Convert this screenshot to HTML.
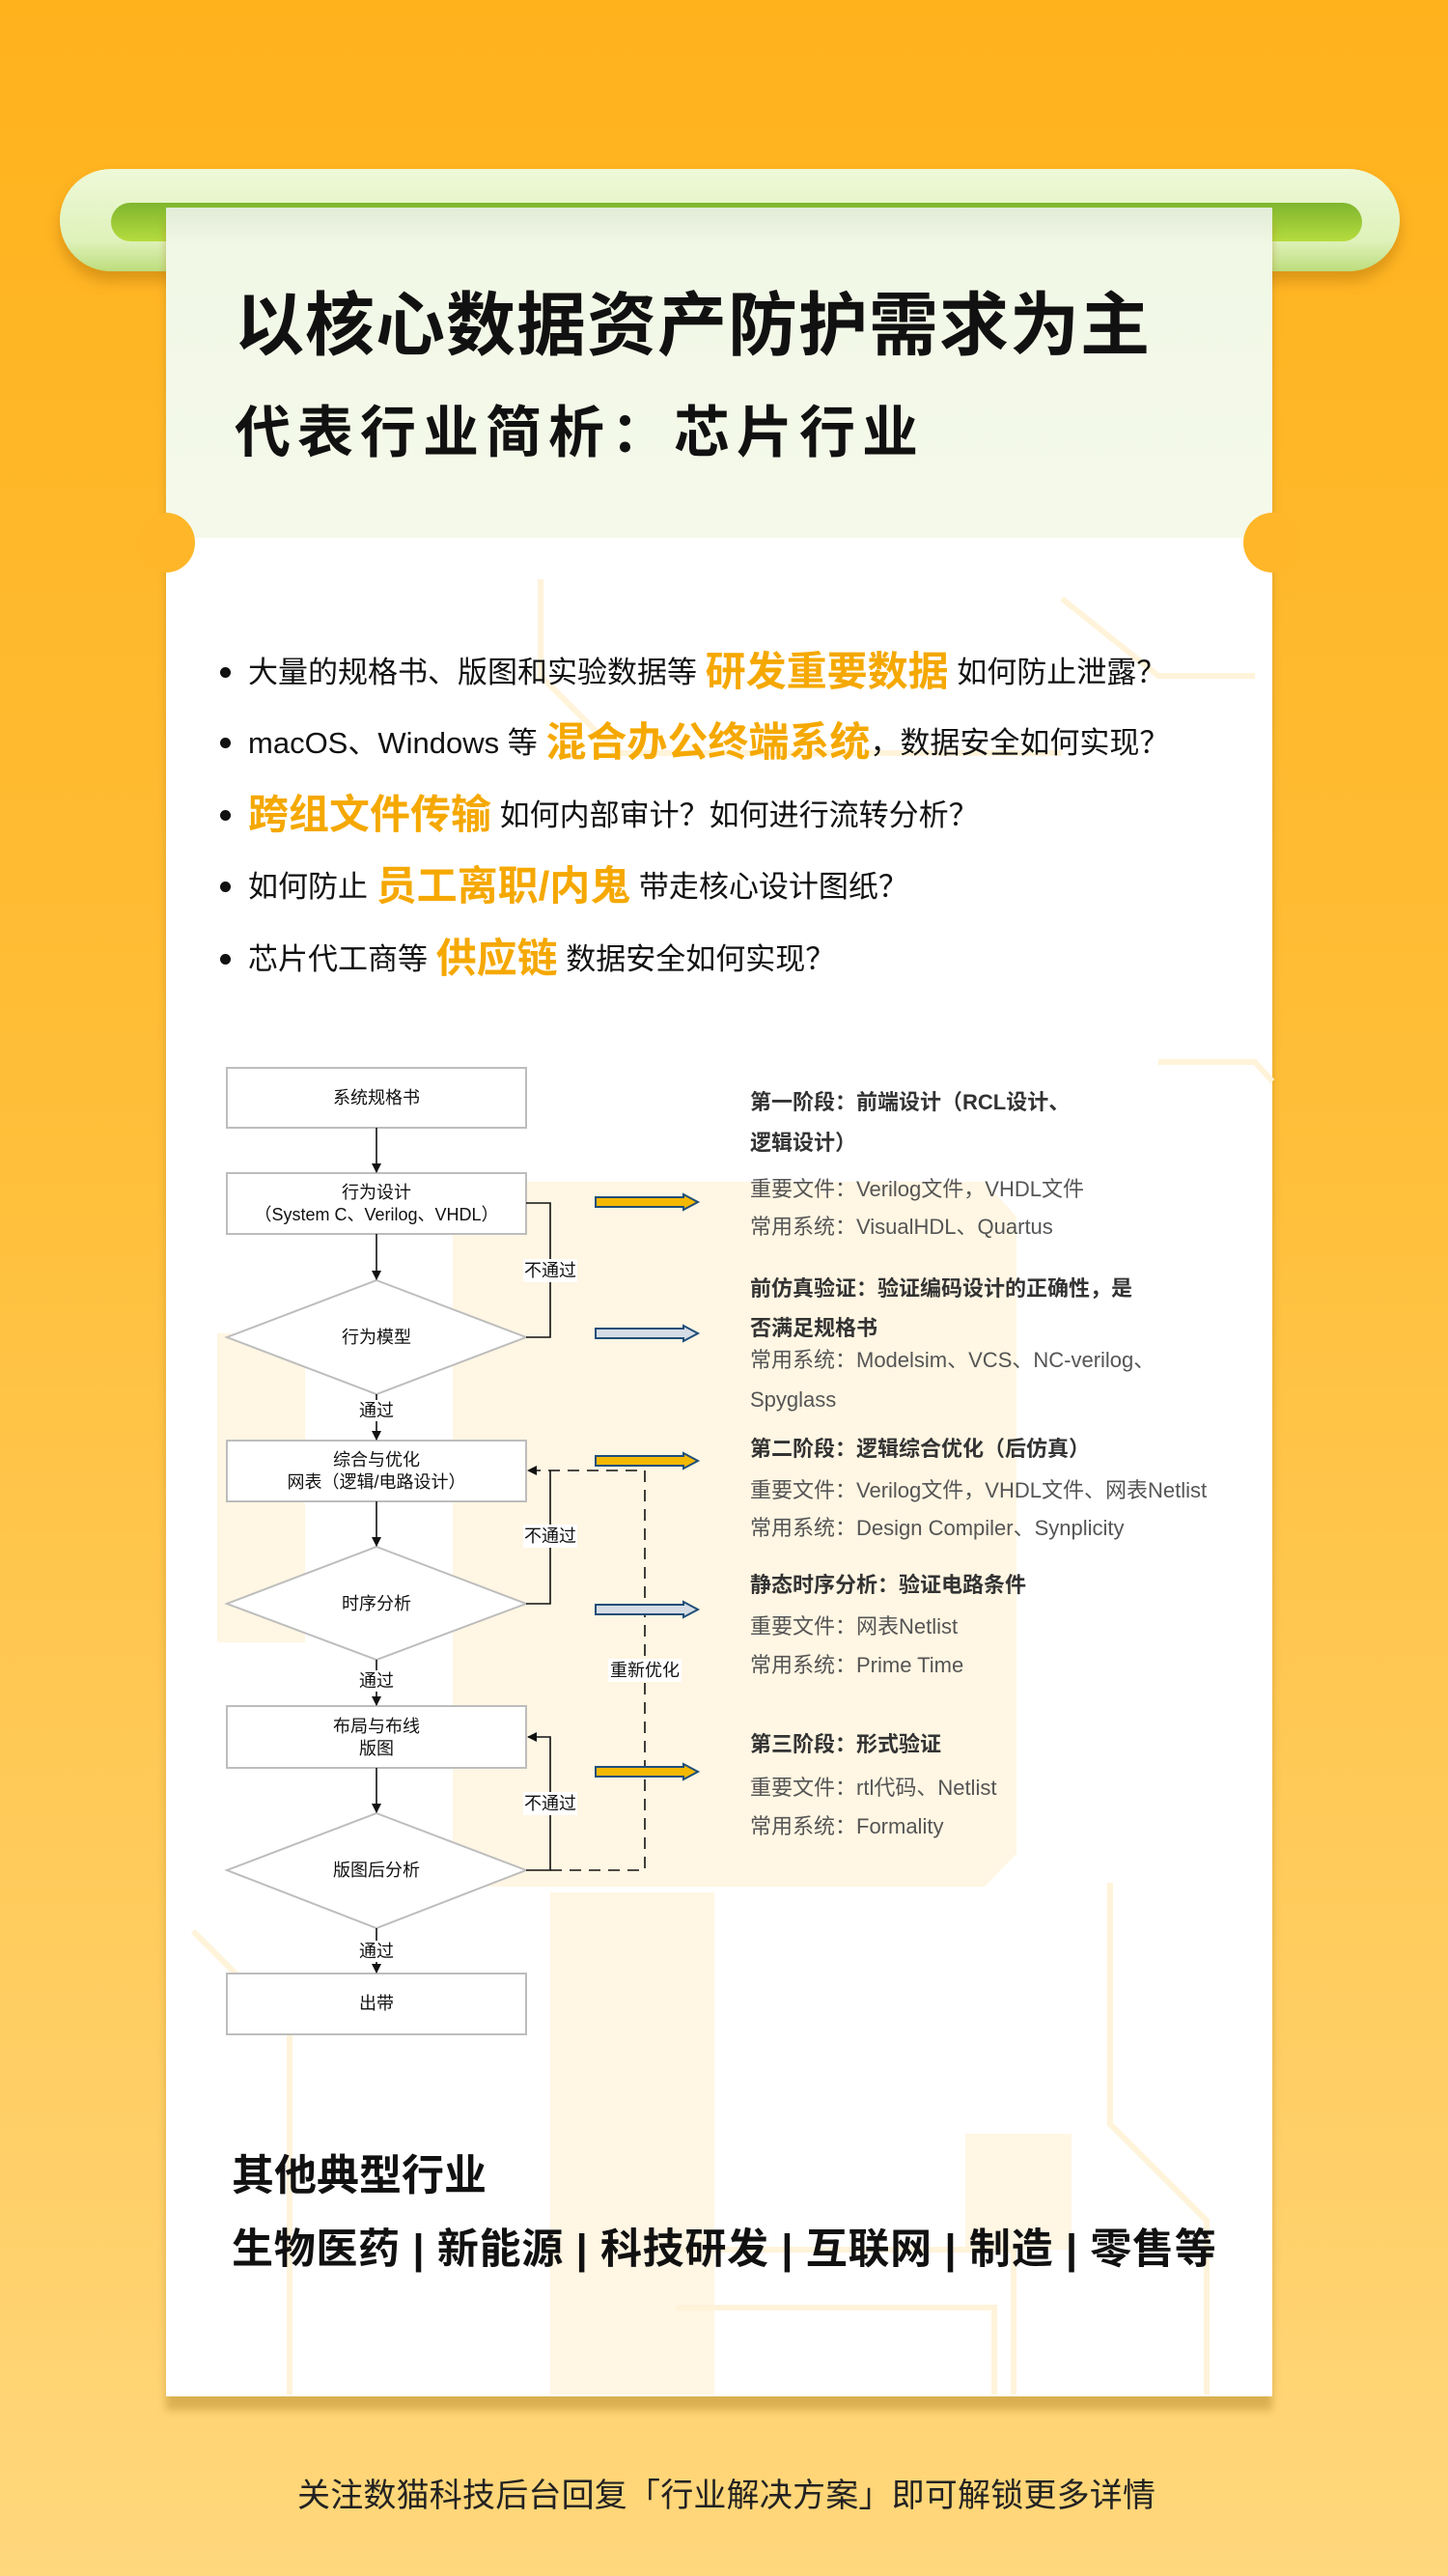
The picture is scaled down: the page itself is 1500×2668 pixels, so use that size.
<!DOCTYPE html>
<html><head><meta charset="utf-8">
<style>
*{margin:0;padding:0;box-sizing:border-box}
body{width:1500px;height:2668px;position:relative;overflow:hidden;font-family:"Liberation Sans","Noto Sans CJK SC",sans-serif;background:linear-gradient(180deg,#ffb21c 0%,#ffbf3a 45%,#ffd77c 100%)}
.abs{position:absolute}
.t{position:absolute;white-space:nowrap}
.b{font-weight:bold}
.bl{position:absolute;left:228px;width:11px;height:11px;border-radius:50%;background:#111}
.bt{position:absolute;left:257px;white-space:nowrap;font-size:31px;color:#111;line-height:40px}
.bt .o{font-size:42px;font-weight:bold;color:#f5a800;vertical-align:-3px}
.rt{position:absolute;left:777px;white-space:nowrap;font-size:22px;color:#555;line-height:26px}
.rt.h{font-weight:bold;color:#333}
</style></head><body>
<div class="abs" style="left:62px;top:175px;width:1388px;height:106px;border-radius:53px;background:linear-gradient(180deg,#eef9d8,#dff2bb 70%,#bddd7c);box-shadow:0 10px 14px rgba(150,90,0,.35)"></div>
<div class="abs" style="left:115px;top:210px;width:1296px;height:40px;border-radius:20px;background:linear-gradient(180deg,#7fb52e,#b5dc3e)"></div>
<div class="abs" style="left:172px;top:215px;width:1146px;height:2267px;background:#fff;box-shadow:0 14px 8px rgba(170,130,40,.45)"></div>
<div class="abs" style="left:172px;top:215px;width:1146px;height:342px;background:linear-gradient(180deg,#e3ecd8 0%,#f2f8e6 12%,#f4f9ea 100%)"></div>
<div class="abs" style="left:142px;top:531px;width:60px;height:62px;border-radius:50%;background:#ffb628"></div>
<div class="abs" style="left:1288px;top:531px;width:60px;height:62px;border-radius:50%;background:#ffb628"></div>
<svg class="abs" style="left:0;top:0" width="1500" height="2668">
<g fill="#fff6e3">
<polygon points="500,1224 1020,1224 1053,1260 1053,1920 1020,1954 500,1954 469,1920 469,1260"/>
<rect x="225" y="1381" width="91" height="320"/>
<rect x="570" y="1960" width="170" height="520"/>
<rect x="1000" y="2210" width="110" height="120"/>
</g>
<g stroke="#fff3da" stroke-width="6" fill="none">
<path d="M560 600 L560 700 L640 780 L1100 780"/>
<path d="M1100 620 L1200 700 L1300 700"/>
<path d="M1200 1100 L1300 1100 L1318 1120"/>
<path d="M1150 1950 L1150 2200 L1250 2300 L1250 2480"/>
<path d="M200 2000 L300 2100 L300 2480"/>
<path d="M700 2330 L1050 2330 L1050 2480"/>
<path d="M700 2390 L1030 2390 L1030 2480"/>
</g>
</svg>
<div class="t b" style="left:243px;top:296px;font-size:72px;letter-spacing:1px;color:#111;line-height:84px">以核心数据资产防护需求为主</div>
<div class="t b" style="left:243px;top:414px;font-size:58px;letter-spacing:7px;color:#111;line-height:70px">代表行业简析：芯片行业</div>
<div class="bl" style="top:691px"></div><div class="bt" style="top:676px">大量的规格书、版图和实验数据等 <span class="o">研发重要数据</span> 如何防止泄露？</div>
<div class="bl" style="top:764px"></div><div class="bt" style="top:749px">macOS、Windows 等 <span class="o">混合办公终端系统</span>，数据安全如何实现？</div>
<div class="bl" style="top:839px"></div><div class="bt" style="top:824px"><span class="o">跨组文件传输</span> 如何内部审计？如何进行流转分析？</div>
<div class="bl" style="top:913px"></div><div class="bt" style="top:898px">如何防止 <span class="o">员工离职/内鬼</span> 带走核心设计图纸？</div>
<div class="bl" style="top:988px"></div><div class="bt" style="top:973px">芯片代工商等 <span class="o">供应链</span> 数据安全如何实现？</div>
<svg class="abs" style="left:0;top:0" width="1500" height="2668" font-family="Liberation Sans,Noto Sans CJK SC,sans-serif">
<defs><marker id="a" markerWidth="10" markerHeight="10" refX="9" refY="5" orient="auto" markerUnits="userSpaceOnUse"><path d="M0,0 L10,5 L0,10z" fill="#111"/></marker></defs>
<g fill="#fff" stroke="#bdbdbd" stroke-width="2">
<rect x="235" y="1106" width="310" height="62"/>
<rect x="235" y="1215" width="310" height="63"/>
<polygon points="390,1326 545,1385 390,1444 235,1385"/>
<rect x="235" y="1492" width="310" height="63"/>
<polygon points="390,1602 545,1661 390,1719 235,1661"/>
<rect x="235" y="1767" width="310" height="64"/>
<polygon points="390,1878 545,1937 390,1997 235,1937"/>
<rect x="235" y="2044" width="310" height="63"/>
</g>
<g stroke="#111" stroke-width="1.6" fill="none" marker-end="url(#a)">
<line x1="390" y1="1168" x2="390" y2="1214"/>
<line x1="390" y1="1278" x2="390" y2="1325"/>
<line x1="390" y1="1444" x2="390" y2="1491"/>
<line x1="390" y1="1555" x2="390" y2="1601"/>
<line x1="390" y1="1719" x2="390" y2="1766"/>
<line x1="390" y1="1831" x2="390" y2="1877"/>
<line x1="390" y1="1997" x2="390" y2="2043"/>
<polyline points="545,1937 570,1937 570,1799 547,1799"/>
<polyline points="545,1661 570,1661 570,1523" marker-end="none"/>
<polyline points="570,1937 668,1937 668,1523 547,1523" stroke-dasharray="12,8"/>
</g>
<polyline points="545,1246 570,1246 570,1385 545,1385" stroke="#111" stroke-width="1.6" fill="none"/>
<g fill="#fff"><rect x="542" y="1304" width="56" height="24"/><rect x="542" y="1579" width="56" height="24"/><rect x="542" y="1856" width="56" height="24"/><rect x="630" y="1718" width="76" height="24"/>
<rect x="366" y="1450" width="48" height="22"/><rect x="366" y="1730" width="48" height="22"/><rect x="366" y="2010" width="48" height="22"/></g>
<g font-size="18" fill="#111" text-anchor="middle">
<text x="390" y="1143">系统规格书</text>
<text x="390" y="1241">行为设计</text>
<text x="390" y="1264">（System C、Verilog、VHDL）</text>
<text x="390" y="1391">行为模型</text>
<text x="390" y="1518">综合与优化</text>
<text x="390" y="1541">网表（逻辑/电路设计）</text>
<text x="390" y="1667">时序分析</text>
<text x="390" y="1794">布局与布线</text>
<text x="390" y="1817">版图</text>
<text x="390" y="1943">版图后分析</text>
<text x="390" y="2081">出带</text>
<text x="570" y="1322">不通过</text><text x="570" y="1597">不通过</text><text x="570" y="1874">不通过</text>
<text x="668" y="1736">重新优化</text>
<text x="390" y="1467">通过</text><text x="390" y="1747">通过</text><text x="390" y="2027">通过</text>
</g>
<g stroke="#1f4e79" stroke-width="2">
<g fill="#f5b800"><path d="M617,1240 L708,1240 L708,1237 L723,1245 L708,1253 L708,1250 L617,1250z"/></g>
<g fill="#d6dce5"><path d="M617,1376 L708,1376 L708,1373 L723,1381 L708,1389 L708,1386 L617,1386z"/></g>
<g fill="#f5b800"><path d="M617,1508 L708,1508 L708,1505 L723,1513 L708,1521 L708,1518 L617,1518z"/></g>
<g fill="#d6dce5"><path d="M617,1662 L708,1662 L708,1659 L723,1667 L708,1675 L708,1672 L617,1672z"/></g>
<g fill="#f5b800"><path d="M617,1830 L708,1830 L708,1827 L723,1835 L708,1843 L708,1840 L617,1840z"/></g>
</g>
</svg>
<div class="rt h" style="top:1129px">第一阶段：前端设计（RCL设计、</div>
<div class="rt h" style="top:1171px">逻辑设计）</div>
<div class="rt" style="top:1219px">重要文件：Verilog文件，VHDL文件</div>
<div class="rt" style="top:1258px">常用系统：VisualHDL、Quartus</div>
<div class="rt h" style="top:1322px">前仿真验证：验证编码设计的正确性，是</div>
<div class="rt h" style="top:1363px">否满足规格书</div>
<div class="rt" style="top:1396px">常用系统：Modelsim、VCS、NC-verilog、</div>
<div class="rt" style="top:1437px">Spyglass</div>
<div class="rt h" style="top:1488px">第二阶段：逻辑综合优化（后仿真）</div>
<div class="rt" style="top:1531px">重要文件：Verilog文件，VHDL文件、网表Netlist</div>
<div class="rt" style="top:1570px">常用系统：Design Compiler、Synplicity</div>
<div class="rt h" style="top:1629px">静态时序分析：验证电路条件</div>
<div class="rt" style="top:1672px">重要文件：网表Netlist</div>
<div class="rt" style="top:1712px">常用系统：Prime Time</div>
<div class="rt h" style="top:1794px">第三阶段：形式验证</div>
<div class="rt" style="top:1839px">重要文件：rtl代码、Netlist</div>
<div class="rt" style="top:1879px">常用系统：Formality</div>
<div class="t b" style="left:240px;top:2228px;font-size:44px;color:#111;line-height:52px">其他典型行业</div>
<div class="t b" style="left:240px;top:2304px;font-size:43px;color:#111;line-height:52px;letter-spacing:0.7px">生物医药 | 新能源 | 科技研发 | 互联网 | 制造 | 零售等</div>
<div class="t" style="left:308px;top:2565px;font-size:34px;color:#222;line-height:40px;letter-spacing:0.2px">关注数猫科技后台回复「行业解决方案」即可解锁更多详情</div>
</body></html>
